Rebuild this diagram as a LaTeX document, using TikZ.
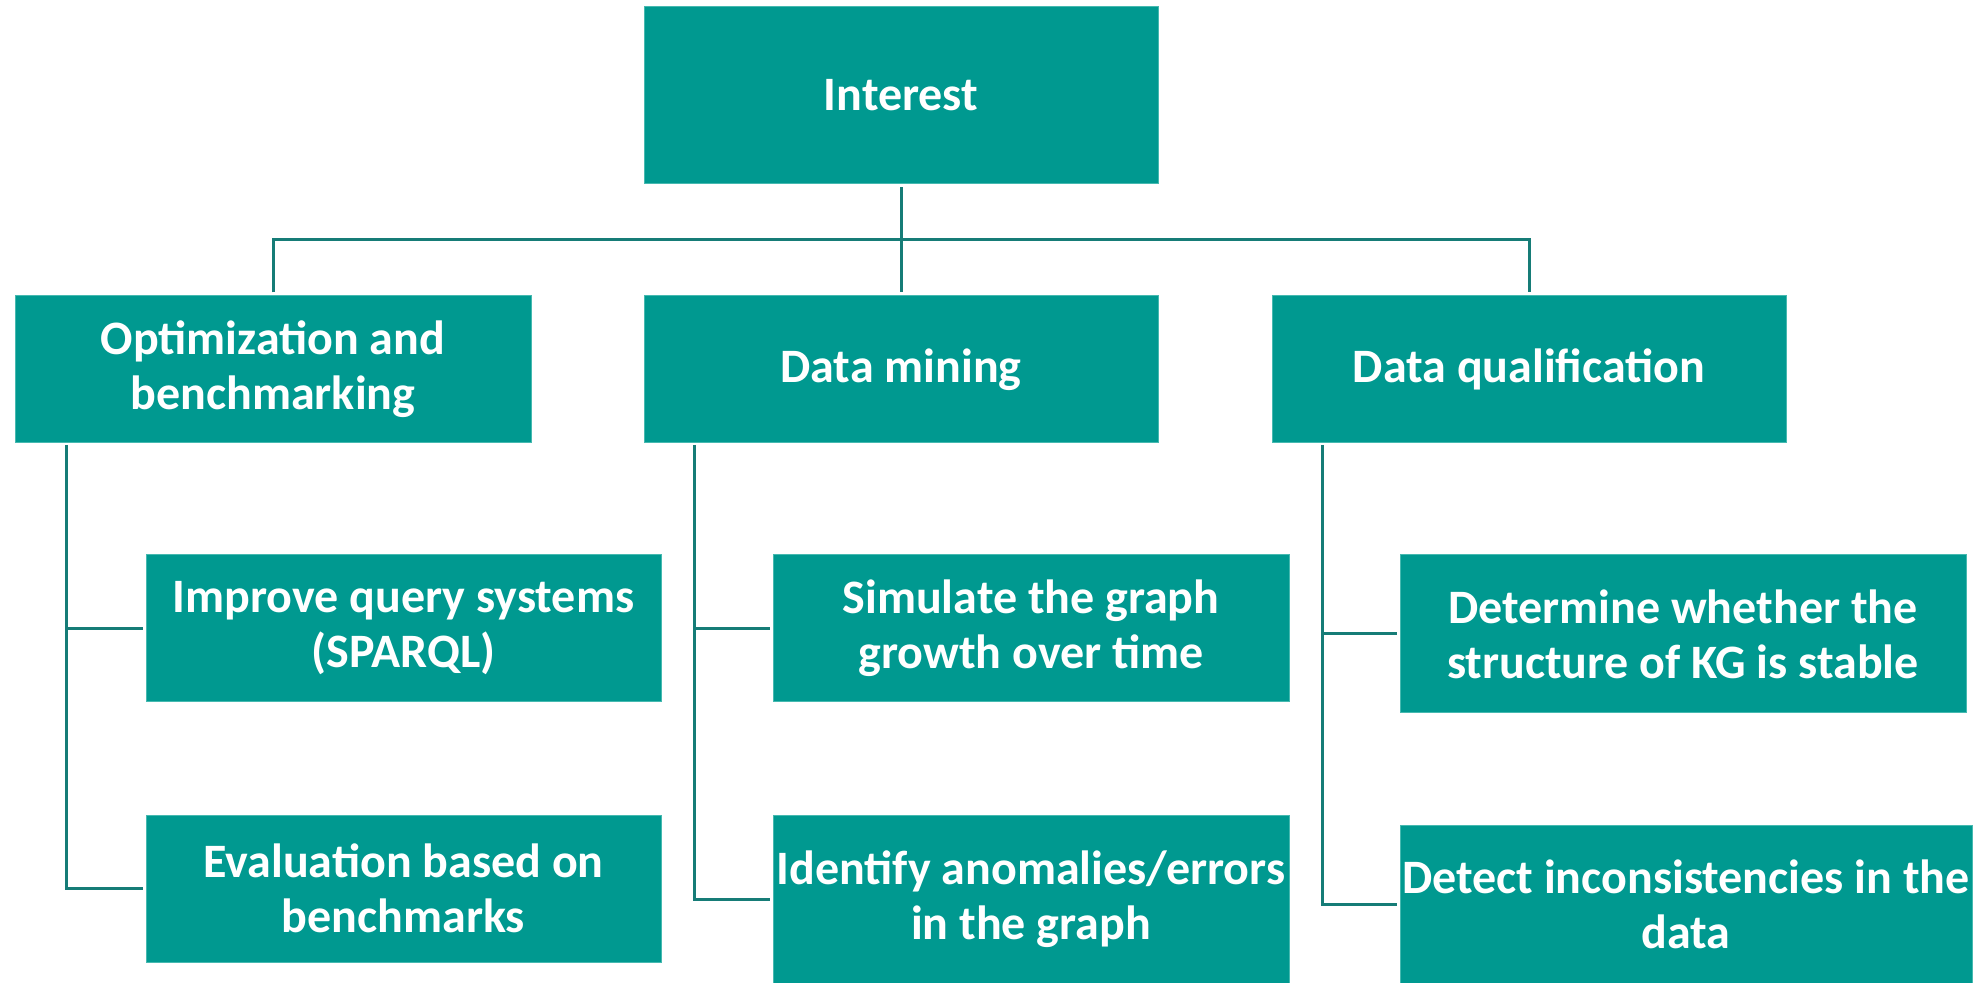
\documentclass[tikz,border=0pt]{standalone}
\usepackage{fontspec}
\setmainfont{Carlito}
\definecolor{boxteal}{RGB}{0,153,144}
\definecolor{edgeteal}{RGB}{70,185,176}
\definecolor{lineteal}{RGB}{22,124,119}
\begin{document}
\begin{tikzpicture}[x=0.5pt,y=-0.5pt,
  box/.style={rectangle, fill=boxteal, draw=edgeteal, line width=0.5pt,
    text=white, font=\bfseries\fontsize{24}{27.5}\selectfont, align=center, inner sep=0pt},
  link/.style={draw=lineteal, line width=1.5pt}]
\useasboundingbox[fill=white] (0,0) rectangle (1987,983);

% root
\node[box, minimum width=257pt, minimum height=88.5pt] (interest) at (901,95.5) {Interest};

% second level
\node[box, minimum width=258pt, minimum height=73.5pt] (opt) at (273,369.5) {Optimization and\\benchmarking};
\node[box, minimum width=257pt, minimum height=73.5pt] (dm) at (901,369.5) {Data mining};
\node[box, minimum width=257pt, minimum height=73.5pt] (dq) at (1529,369.5) {Data qualification};

% third level
\node[box, minimum width=257.5pt, minimum height=73.5pt] (improve) at (403.5,628.5) {Improve query systems\\(SPARQL)};
\node[box, minimum width=257.5pt, minimum height=73.5pt] (eval) at (403.5,888.5) {Evaluation based on\\benchmarks};
\node[box, minimum width=258pt, minimum height=73.5pt] (simulate) at (1031,628.5) {Simulate the graph\\growth over time};
\node[box, minimum width=258pt, minimum height=84pt] (identify) at (1031,899) {Identify anomalies/errors\\in the graph};
\node[box, minimum width=283pt, minimum height=79pt] (determine) at (1683,634) {Determine whether the\\structure of KG is stable};
\node[box, minimum width=286pt, minimum height=79pt] (detect) at (1686,904) {Detect inconsistencies in the\\data};

% top-level fan-out
\coordinate (hub) at (901,240);
\draw[link, shorten <=1.5pt, shorten >=1.5pt] (interest.south) -- (dm.north);
\draw[link, shorten <=1.5pt, shorten >=1.5pt] (opt.north) |- (hub) -| (dq.north);

% column trunks with their branches
\coordinate (t1) at (66,445);
\coordinate (t2) at (694,445);
\coordinate (t3) at (1322,445);
\draw[link, shorten >=1.5pt] (t1) |- (eval.west);
\draw[link, shorten >=1.5pt] (t1 |- improve.west) -- (improve.west);
\draw[link, shorten >=1.5pt] (t2) |- (identify.west);
\draw[link, shorten >=1.5pt] (t2 |- simulate.west) -- (simulate.west);
\draw[link, shorten >=1.5pt] (t3) |- (detect.west);
\draw[link, shorten >=1.5pt] (t3 |- determine.west) -- (determine.west);
\end{tikzpicture}
\end{document}
